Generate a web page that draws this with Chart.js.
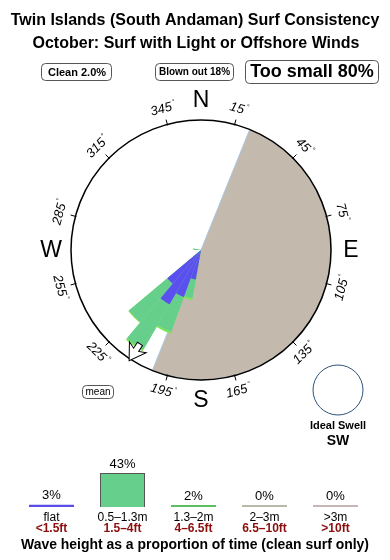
<!DOCTYPE html>
<html>
<head>
<meta charset="utf-8">
<script src="https://cdn.jsdelivr.net/npm/chart.js@4.4.1/dist/chart.umd.min.js"></script>
<style>
body { margin: 0; background: #fff; }
#wrap { position: relative; width: 390px; height: 560px; }
#rose { position: absolute; left: 0; top: 0; }
#bars { position: absolute; left: 0; top: 440px; }
</style>
</head>
<body>
<div id="wrap">
  <canvas id="rose" width="390" height="560"></canvas>
  <canvas id="bars" width="390" height="120"></canvas>
</div>
<script>
const FONT = '"Liberation Sans", Arial, sans-serif';

// direction bins, 10 degrees each, starting at north going clockwise
const dirBins = ['0','10','20','30','40','50','60','70','80','90','100','110',
                 '120','130','140','150','160','170','180','190','200','210','220','230',
                 '240','250','260','270','280','290','300','310','320','330','340','350'];
// petal lengths per bin (circle edge = 13)
const flatLen  = [0,0,0,0,0,0,0,0,0,0,0,0, 0,0,0,0,0,0,0,3.0,5.0,6.3,4.4,0, 0,0,0,0,0,0,0,0,0,0,0,0];
const smallLen = [0,0,0,0,0,0,0,0,0,0,0,0, 0,0,0,0,0,0,0,1.9,3.7,5.2,5.0,0, 0,0,0,0.7,0,0,0,0,0,0,0,0];
const midLen   = [0,0,0,0,0,0,0,0,0,0,0,0, 0,0,0,0,0,0,0,0.2,0.2,0.2,0.1,0, 0,0,0,0.1,0,0,0,0,0,0,0,0];
const roseMax = 13;

// offshore / land sector (degrees)
const landFrom = 22, landTo = 202;

const degTicks = [15,45,75,105,135,165,195,225,255,285,315,345];
const meanDir = 213;

// wave height summary
const sizeLabels = ['flat','0.5\u20131.3m','1.3\u20132m','2\u20133m','>3m'];
const sizeFeet   = ['<1.5ft','1.5\u20134ft','4\u20136.5ft','6.5\u201310ft','>10ft'];
const sizePct    = [3,43,2,0,0];

const cumSmall = flatLen.map((v, i) => v + smallLen[i]);
const cumMid = cumSmall.map((v, i) => v + midLen[i]);

function rrect(c, x, y, w, h, r) {
  c.beginPath();
  c.roundRect(x, y, w, h, r);
  c.fillStyle = '#fff';
  c.fill();
  c.strokeStyle = '#555';
  c.lineWidth = 1;
  c.stroke();
}

const roseDeco = {
  id: 'roseDeco',
  afterDraw(chart) {
    const c = chart.ctx, s = chart.scales.r;
    const cx = s.xCenter, cy = s.yCenter, R = s.drawingArea;
    c.save();
    c.fillStyle = '#000';
    c.textAlign = 'center';
    c.textBaseline = 'alphabetic';
    c.font = 'bold 16px ' + FONT;
    c.fillText('Twin Islands (South Andaman) Surf Consistency', 195, 25, 372);
    c.fillText('October: Surf with Light or Offshore Winds', 196, 48, 372);

    // headline boxes
    rrect(c, 41.5, 63.5, 70, 17, 4);
    rrect(c, 155.5, 63.5, 78, 17, 4);
    rrect(c, 245.5, 60.5, 133, 23, 4);
    c.fillStyle = '#000';
    c.textBaseline = 'middle';
    c.font = 'bold 11px ' + FONT;
    c.fillText('Clean 2.0%', 77, 72.5);
    c.font = 'bold 10px ' + FONT;
    c.fillText('Blown out 18%', 194.5, 72.5);
    c.font = 'bold 18px ' + FONT;
    c.fillText('Too small 80%', 312, 72.5);

    // compass letters
    c.font = '23px ' + FONT;
    [['N', 0], ['E', 90], ['S', 180], ['W', 270]].forEach(([t, a]) => {
      const r = R + 20, ar = a * Math.PI / 180;
      c.fillText(t, cx + r * Math.sin(ar), cy - r * Math.cos(ar) + 1);
    });

    // degree ticks + labels
    c.strokeStyle = '#000';
    c.lineWidth = 1;
    degTicks.forEach(a => {
      const ar = a * Math.PI / 180, sn = Math.sin(ar), cs = Math.cos(ar);
      c.beginPath();
      c.moveTo(cx + (R - 1) * sn, cy - (R - 1) * cs);
      c.lineTo(cx + (R + 5) * sn, cy - (R + 5) * cs);
      c.stroke();
      const lr = R + 16;
      c.save();
      c.translate(cx + lr * sn, cy - lr * cs);
      const rot = (a > 90 && a < 270) ? a - 180 : a;
      c.rotate(rot * Math.PI / 180);
      c.font = 'italic 13px ' + FONT;
      const w = c.measureText(String(a)).width;
      c.fillText(String(a), -2, 0);
      c.font = '7px ' + FONT;
      c.fillText('\u00b0', w / 2 + 1, -4);
      c.restore();
    });

    // mean direction arrow
    const ma = meanDir * Math.PI / 180;
    c.save();
    c.translate(cx + (R - 8) * Math.sin(ma), cy - (R - 8) * Math.cos(ma));
    c.rotate(ma);
    c.beginPath();
    c.moveTo(0, -10);
    c.lineTo(10, 6);
    c.lineTo(3, 3);
    c.lineTo(3, 10);
    c.lineTo(-3, 10);
    c.lineTo(-3, 3);
    c.lineTo(-10, 6);
    c.closePath();
    c.fillStyle = '#fff';
    c.fill();
    c.strokeStyle = '#000';
    c.stroke();
    c.restore();

    rrect(c, 82.5, 385.5, 31, 13, 4);
    c.fillStyle = '#000';
    c.font = '10px ' + FONT;
    c.fillText('mean', 98, 392.5);

    // ideal swell
    c.beginPath();
    c.arc(338, 390, 25, 0, Math.PI * 2);
    c.strokeStyle = '#2f5278';
    c.lineWidth = 1;
    c.stroke();
    c.fillStyle = '#000';
    c.font = 'bold 11px ' + FONT;
    c.fillText('Ideal Swell', 338, 426);
    c.font = 'bold 14px ' + FONT;
    c.fillText('SW', 338, 441);
    c.restore();
  }
};

new Chart(document.getElementById('rose'), {
  type: 'polarArea',
  data: {
    labels: dirBins,
    datasets: [
      { data: flatLen, backgroundColor: '#5b4ff0', borderWidth: 0 },
      { data: cumSmall, backgroundColor: '#66cf8c', borderWidth: 0 },
      { data: cumMid, backgroundColor: '#7fe35c', borderWidth: 0 },
      {
        data: [roseMax, roseMax, roseMax],
        angle: [landFrom, landTo - landFrom, 360 - landTo],
        backgroundColor: ['rgba(0,0,0,0)', '#c4b9ad', 'rgba(0,0,0,0)'],
        borderColor: '#a9c6e2',
        borderWidth: [0, 1, 0]
      }
    ]
  },
  options: {
    responsive: false,
    animation: false,
    layout: { padding: { left: 71, right: 59, top: 120, bottom: 180 } },
    plugins: { legend: { display: false }, tooltip: { enabled: false } },
    scales: {
      r: {
        min: 0, max: roseMax, startAngle: 0,
        ticks: { display: false, stepSize: roseMax },
        grid: { color: '#000', lineWidth: 1.5, z: 1 },
        angleLines: { display: false },
        pointLabels: { display: false }
      }
    }
  },
  plugins: [roseDeco]
});

const barDeco = {
  id: 'barDeco',
  afterDatasetsDraw(chart) {
    const c = chart.ctx, x = chart.scales.x;
    const bars = chart.getDatasetMeta(0).data;
    c.save();
    c.textAlign = 'center';
    c.textBaseline = 'middle';
    sizePct.forEach((p, i) => {
      const px = x.getPixelForValue(i);
      c.fillStyle = '#000';
      c.font = '13px ' + FONT;
      c.fillText(p + '%', px, bars[i].y - 9);
      c.font = '12px ' + FONT;
      c.fillText(sizeLabels[i], px, 78);
      c.fillStyle = '#8b0d0d';
      c.font = 'bold 12px ' + FONT;
      c.fillText(sizeFeet[i], px, 89);
    });
    c.fillStyle = '#000';
    c.font = 'bold 14px ' + FONT;
    c.fillText('Wave height as a proportion of time (clean surf only)', 195, 105, 348);
    c.restore();
  }
};

new Chart(document.getElementById('bars'), {
  type: 'bar',
  data: {
    labels: sizeLabels,
    datasets: [{
      data: sizePct,
      backgroundColor: ['#5a4ee8', '#66cf8c', '#5cc060', '#b9b9a9', '#c6b6b6'],
      borderColor: ['#333399', '#555555', '#339933', '#999988', '#a89898'],
      borderWidth: [0, 1, 0, 0, 0],
      minBarLength: 2,
      barPercentage: 0.634,
      categoryPercentage: 1
    }]
  },
  options: {
    responsive: false,
    animation: false,
    layout: { padding: { left: 16, right: 19, top: 33, bottom: 53 } },
    plugins: { legend: { display: false }, tooltip: { enabled: false } },
    scales: {
      x: { display: false },
      y: { display: false, min: 0, max: 43 }
    }
  },
  plugins: [barDeco]
});
</script>
</body>
</html>
